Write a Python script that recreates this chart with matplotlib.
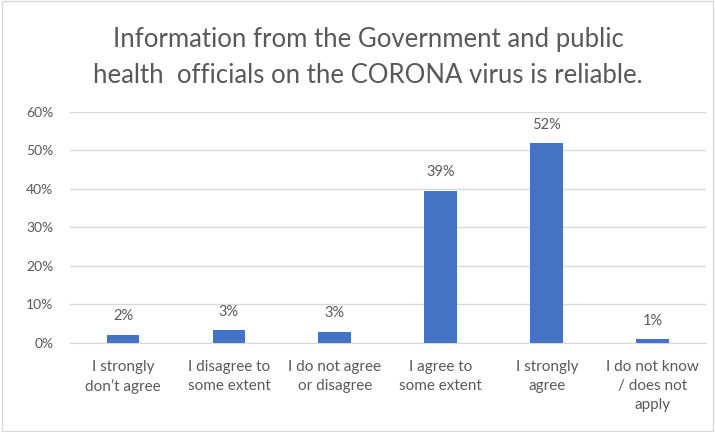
import matplotlib
matplotlib.use("Agg")
import matplotlib.pyplot as plt
from matplotlib.patches import Rectangle

categories = ["I strongly\ndon\u2019t agree", "I disagree to\nsome extent", "I do not agree\nor disagree",
              "I agree to\nsome extent", "I strongly\nagree", "I do not know\n/ does not\napply"]
values = [2.1, 3.3, 2.9, 39.5, 51.8, 1.0]
labels = ["2%", "3%", "3%", "39%", "52%", "1%"]
yticks = [0, 10, 20, 30, 40, 50, 60]
title = "Information from the Government and public\nhealth  officials on the CORONA virus is reliable."

plt.rcParams['font.family'] = ['Lato', 'DejaVu Sans']
txt = '#595959'

fig = plt.figure(figsize=(7.15, 4.32), dpi=100)
fig.patches.append(Rectangle((0.003, 0.003), 0.994, 0.994, transform=fig.transFigure,
                             fill=False, edgecolor='#d9d9d9', lw=1))
ax = fig.add_axes([0.098, 0.206, 0.889, 0.535])
x = list(range(len(categories)))
ax.bar(x, values, width=0.31, color='#4472c4', zorder=3)
for xi, v, l in zip(x, values, labels):
    ax.text(xi, v + 3.0, l, ha='center', va='bottom', fontsize=10.5, color=txt)
ax.set_xlim(-0.5, len(categories) - 0.5)
ax.set_ylim(0, 60)
ax.set_yticks(yticks)
ax.set_yticklabels([f"{t}%" for t in yticks], fontsize=10, color=txt)
ax.set_xticks(x)
ax.set_xticklabels(categories, fontsize=11, color=txt, linespacing=1.45)
ax.grid(axis='y', color='#d9d9d9', lw=1, zorder=0)
for s in ['top', 'right', 'left']:
    ax.spines[s].set_visible(False)
ax.spines['bottom'].set_color('#d9d9d9')
ax.tick_params(axis='x', length=0, pad=12)
ax.tick_params(axis='y', length=0, pad=12)
fig.text(0.515, 0.867, title, ha='center', va='center', fontsize=18.5, color=txt, linespacing=1.55)
fig.savefig("out.png", dpi=100)
